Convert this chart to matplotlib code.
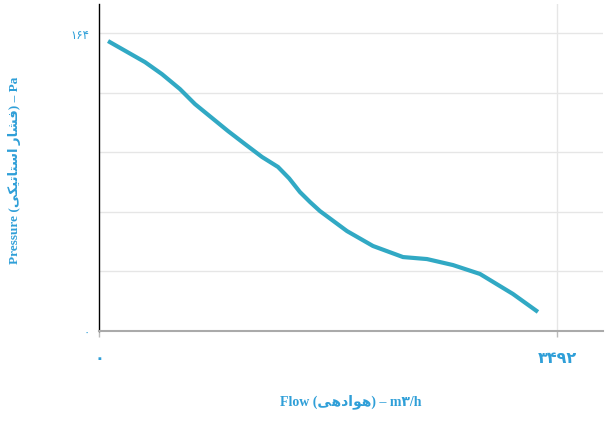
import numpy as np
import matplotlib
matplotlib.use("Agg")
import matplotlib.pyplot as plt

# داده‌های منحنی (خوانده شده از تصویر)
flow = [69, 351, 480, 617, 732, 983, 1113, 1243, 1365, 1450, 1532, 1609, 1685,
        1891, 2089, 2318, 2501, 2699, 2905, 3156, 3347]
pressure = [159.6, 148.0, 141.4, 133.2, 124.9, 110.1, 102.9, 95.8, 90.3, 84.0, 76.5, 71.0, 66.0,
            55.0, 46.8, 40.7, 39.6, 36.3, 31.4, 20.4, 10.5]

x_ticks = [0, 3492]
x_tick_labels = ["\u06f0", "\u06f3\u06f4\u06f9\u06f2"]
y_max = 164
y_tick_labels = ["\u06f0", "", "", "", "", "\u06f1\u06f6\u06f4"]

# متن فارسی با حروف شکل‌یافته، به ترتیب نمایشی
fa_flow = "\ufef0\ufeeb\ufea9\ufe8d\ufeee\ufeeb"
fa_pressure = "\ufef0\ufedc\ufef4\ufe97\ufe8e\ufe98\ufeb3\ufe8d" + " " + "\ufead\ufe8e\ufeb8\ufed3"
x_label = "Flow (" + fa_flow + ") \u2013 m\u06f3/h"
y_label = "Pressure (" + fa_pressure + ") \u2013 Pa"

blue = "#2f9fd8"
line_color = "#31a9c4"
fonts = ["Liberation Serif", "DejaVu Sans"]

fig = plt.figure(figsize=(6.05, 4.27), dpi=100)
ax = fig.add_axes([99 / 605, 1 - 332 / 427, 504 / 605, 327 / 427])

ax.plot(flow, pressure, color=line_color, linewidth=3,
        solid_capstyle="butt", solid_joinstyle="round")

ax.set_xlim(0, 3843)
ax.set_ylim(0, 180)

ax.set_yticks(np.linspace(0, y_max, 6))
ax.set_yticklabels(y_tick_labels, family=["DejaVu Sans"], color=blue, fontsize=8.5)
ax.set_xticks(x_ticks)
ax.set_xticklabels(x_tick_labels, family=["DejaVu Sans"], color=blue, fontsize=11.5, fontweight="bold")

ax.tick_params(axis="y", length=0, pad=7)
ax.tick_params(axis="x", length=4, width=1, color="#bbbbbb", pad=10)

ax.grid(True, color="#e6e6e6", linewidth=1)
ax.set_axisbelow(True)
ax.get_xgridlines()[0].set_visible(False)
ax.get_ygridlines()[0].set_visible(False)

for s in ["top", "right"]:
    ax.spines[s].set_visible(False)
ax.spines["left"].set_color("black")
ax.spines["left"].set_linewidth(1)
ax.spines["bottom"].set_color("#aaaaaa")
ax.spines["bottom"].set_linewidth(1.5)

fig.text(351 / 605, 1 - 402 / 427, x_label, ha="center", va="center",
         family=fonts, color=blue, fontsize=10, fontweight="bold")
fig.text(15 / 605, 1 - 170 / 427, y_label, ha="center", va="center", rotation=90,
         family=fonts, color=blue, fontsize=9.5, fontweight="bold")

fig.savefig("out.png", dpi=100)
